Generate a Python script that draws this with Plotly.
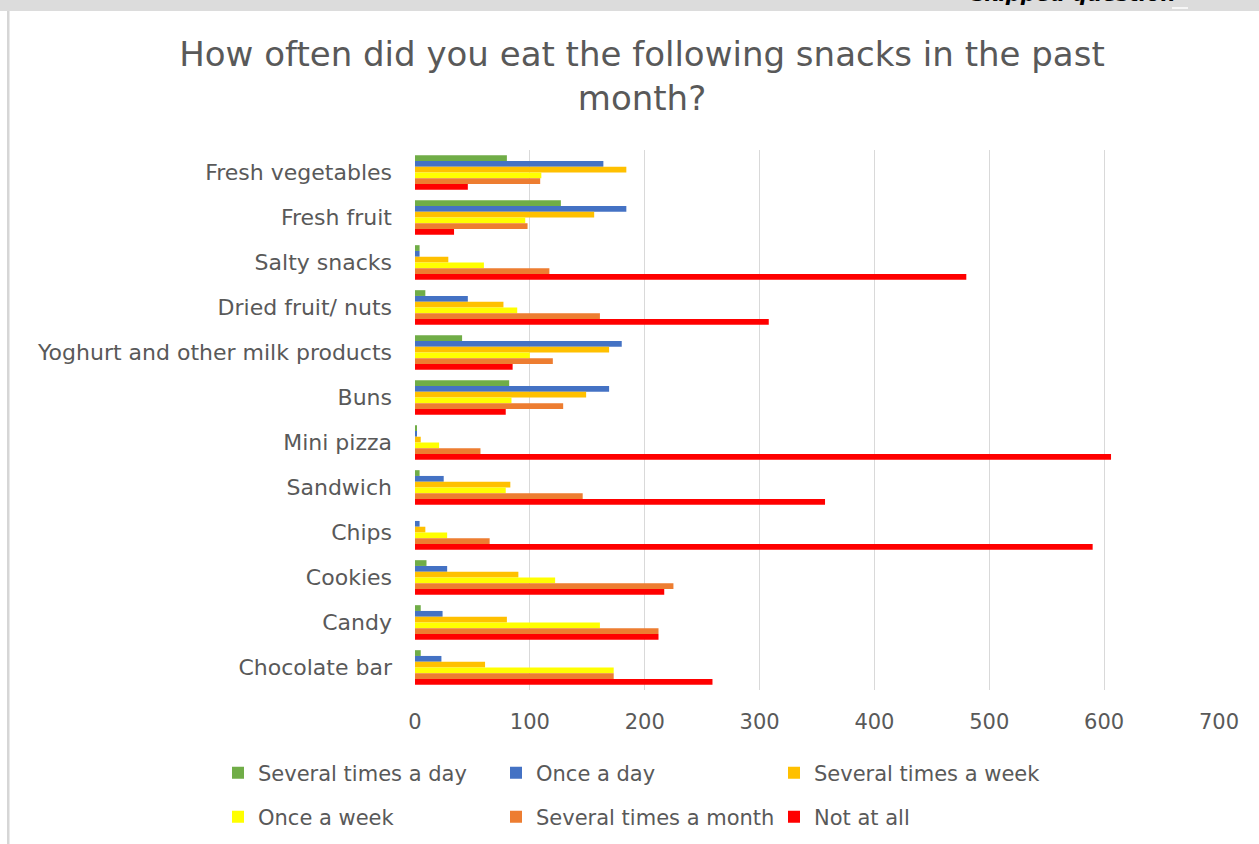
import plotly.graph_objects as go

# Survey: "How often did you eat the following snacks in the past month?"
snacks = [
    "Fresh vegetables", "Fresh fruit", "Salty snacks", "Dried fruit/ nuts",
    "Yoghurt and other milk products", "Buns", "Mini pizza", "Sandwich",
    "Chips", "Cookies", "Candy", "Chocolate bar",
]

several_times_a_day = [80, 127, 4, 9, 41, 82, 1, 4, 0, 10, 5, 5]
once_a_day = [164, 184, 4, 46, 180, 169, 1, 25, 4, 28, 24, 23]
several_times_a_week = [184, 156, 29, 77, 169, 149, 5, 83, 9, 90, 80, 61]
once_a_week = [110, 96, 60, 89, 100, 84, 21, 79, 28, 122, 161, 173]
several_times_a_month = [109, 98, 117, 161, 120, 129, 57, 146, 65, 225, 212, 173]
not_at_all = [46, 34, 480, 308, 85, 79, 606, 357, 590, 217, 212, 259]

series = [
    ("Several times a day", several_times_a_day, "#70AD47", "legend"),
    ("Once a day", once_a_day, "#4472C4", "legend"),
    ("Several times a week", several_times_a_week, "#FFC000", "legend"),
    ("Once a week", once_a_week, "#FFFF00", "legend2"),
    ("Several times a month", several_times_a_month, "#ED7D31", "legend2"),
    ("Not at all", not_at_all, "#FF0000", "legend2"),
]

W, H = 1259, 844
L, R, T, B = 415, 40, 150, 154
PW, PH = W - L - R, H - T - B


def px_x(p):
    return (p - L) / PW


def px_y(p):
    return (H - B - p) / PH


FONT = "DejaVu Sans"
GREY = "#595959"

fig = go.Figure()
for name, values, color, leg in series:
    fig.add_trace(go.Bar(
        name=name, y=snacks, x=values, orientation="h",
        marker=dict(color=color, line=dict(width=0)),
        legend=leg,
    ))

legend_common = dict(
    orientation="h", xanchor="left", yanchor="middle",
    font=dict(family=FONT, size=21, color=GREY),
    entrywidth=233, entrywidthmode="pixels",
    bgcolor="rgba(0,0,0,0)", itemclick=False,
)

fig.update_layout(
    width=W, height=H,
    margin=dict(l=L, r=R, t=T, b=B, autoexpand=False),
    paper_bgcolor="white", plot_bgcolor="white",
    barmode="group", bargap=0.23, bargroupgap=0,
    title=dict(
        text="How often did you eat the following snacks in the past<br>month?",
        x=642 / W, xanchor="center", xref="container",
        y=1 - 66 / H, yanchor="top", yref="container",
        font=dict(family=FONT, size=34, color=GREY),
    ),
    xaxis=dict(
        range=[0, 700], dtick=100, showgrid=True, gridcolor="#D9D9D9",
        gridwidth=1.3, zeroline=False, showline=False, ticks="",
        tickfont=dict(family=FONT, size=21, color=GREY),
        ticklabelstandoff=17,
    ),
    yaxis=dict(
        autorange="reversed", showgrid=False, zeroline=False, showline=False,
        ticks="", tickfont=dict(family=FONT, size=22, color=GREY),
        ticklabelstandoff=22,
    ),
    legend=dict(x=px_x(218), y=px_y(773), **legend_common),
    legend2=dict(x=px_x(218), y=px_y(817), **legend_common),
    showlegend=True,
)

# page frame: grey strip along the top and a thin rule down the left side
fig.add_shape(type="rect", xref="paper", yref="paper",
              x0=px_x(0), x1=px_x(W), y0=px_y(11), y1=px_y(0),
              fillcolor="#DCDCDC", line=dict(width=0), layer="below")
fig.add_shape(type="rect", xref="paper", yref="paper",
              x0=px_x(7), x1=px_x(9.5), y0=px_y(H), y1=px_y(11),
              fillcolor="#D6D6D6", line=dict(width=0), layer="below")
fig.add_shape(type="line", xref="paper", yref="paper",
              x0=px_x(1172), x1=px_x(1188), y0=px_y(8), y1=px_y(8),
              line=dict(color="white", width=1.5))

fig.add_annotation(
    text="<b><i>skipped question</i></b>", xref="paper", yref="paper",
    x=px_x(970), xanchor="left", y=px_y(-6), yanchor="middle",
    showarrow=False, font=dict(family=FONT, size=21, color="black"),
)

fig.write_html("out.html")
